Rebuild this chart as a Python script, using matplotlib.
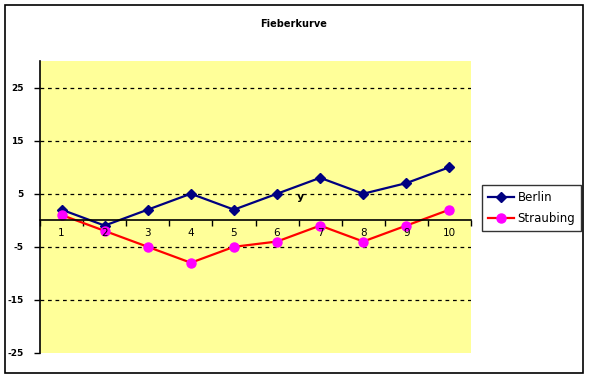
import matplotlib.pyplot as plt
from matplotlib.patches import Rectangle

# Datos de la curva
tage = [1, 2, 3, 4, 5, 6, 7, 8, 9, 10]
berlin = [2, -1, 2, 5, 2, 5, 8, 5, 7, 10]
straubing = [1, -2, -5, -8, -5, -4, -1, -4, -1, 2]
y_ticks = [-25, -15, -5, 5, 15, 25]

fig = plt.figure(figsize=(5.89, 3.78), dpi=100)
W, H = 589, 378

# Rahmen um das ganze Diagramm
fig.patches.append(Rectangle((5 / W, 1 - 373 / H), 578 / W, 368 / H,
                             transform=fig.transFigure, fill=False,
                             edgecolor='black', linewidth=1.2))

ax = fig.add_axes([40 / W, 1 - 353 / H, 431 / W, 292 / H])
ax.set_facecolor('#FFFF99')

ax.plot(tage, berlin, color='#000080', marker='D', markersize=5, linewidth=1.6,
        label='Berlin')
ax.plot(tage, straubing, color='#FF0000', marker='o', markersize=6.5,
        markerfacecolor='#FF00FF', markeredgecolor='#FF00FF', linewidth=1.6,
        label='Straubing')

ax.set_xlim(0.5, 10.5)
ax.set_ylim(-25, 30)

# Gitterlinien
for y in y_ticks[1:]:
    ax.axhline(y, color='black', linestyle=(0, (3, 3)), linewidth=0.9, zorder=0)

# x-Achse bei y=0
ax.spines['bottom'].set_position(('data', 0))
ax.spines['top'].set_visible(False)
ax.spines['right'].set_visible(False)
ax.spines['left'].set_linewidth(1.2)
ax.spines['bottom'].set_linewidth(1.2)

ax.set_yticks(y_ticks)
ax.set_yticklabels([str(v) for v in y_ticks], fontsize=6.5, fontweight='bold')
ax.tick_params(axis='y', length=4, width=1, pad=8)

ax.set_xticks([x + 0.5 for x in range(0, 11)])
ax.set_xticklabels([])
ax.tick_params(axis='x', length=4, width=1, direction='out')
for t in tage:
    ax.text(t, -1.5, str(t), ha='center', va='top', fontsize=7.5)

ax.text(6.55, 4.3, 'y', fontsize=8, fontweight='bold', ha='center', va='center')

fig.text(294 / W, 1 - 24 / H, 'Fieberkurve', ha='center', va='center',
         fontsize=7, fontweight='bold')

leg = ax.legend(loc='upper left', bbox_to_anchor=(482 / W, 1 - 185 / H),
                bbox_transform=fig.transFigure, fontsize=8.5, frameon=True,
                fancybox=False, borderpad=0.5, handlelength=2.2,
                handletextpad=0.3, labelspacing=0.7, borderaxespad=0)
leg.get_frame().set_edgecolor('black')
leg.get_frame().set_linewidth(1)

fig.savefig('out.png', dpi=100)
